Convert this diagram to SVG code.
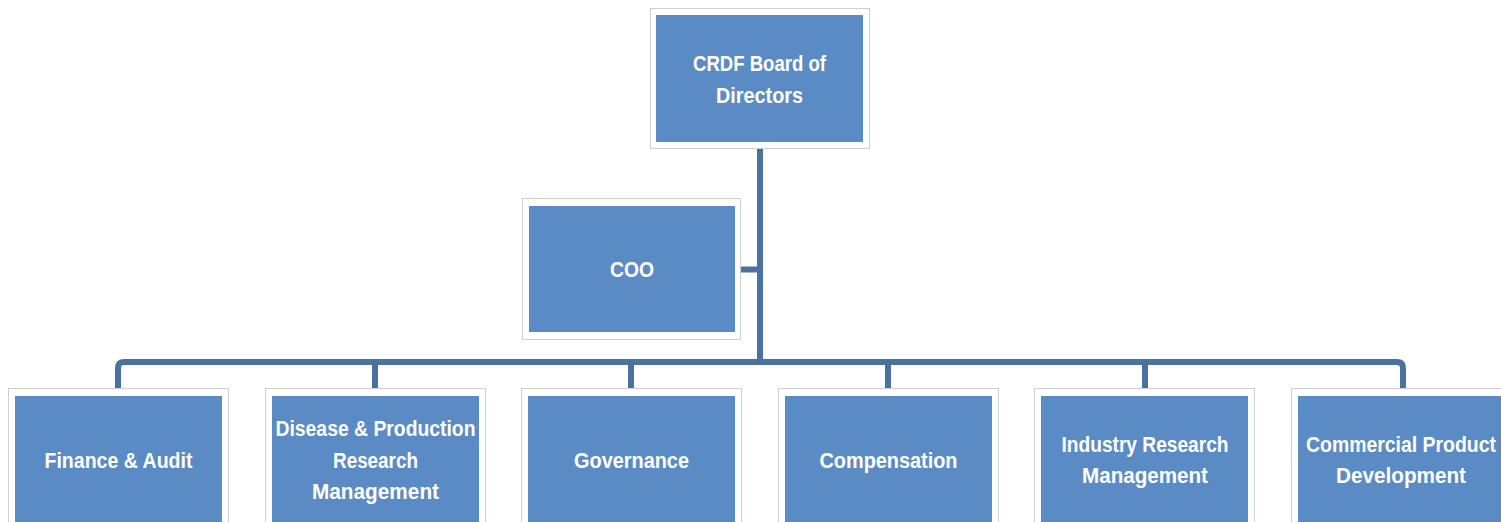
<svg xmlns="http://www.w3.org/2000/svg" width="1501" height="522" viewBox="0 0 1501 522">
<style>
.frame{fill:#ffffff;stroke:#cfcfcf;stroke-width:1}
.box{fill:#5b8bc4}
.lbl{fill:#ffffff;font-family:"Liberation Sans",Arial,sans-serif;font-weight:bold;font-size:22px;text-anchor:middle;dominant-baseline:central}
.conn{fill:none;stroke:#4a72a0;stroke-width:6;stroke-linejoin:round}
</style>
<g id="connectors">
<path class="conn" d="M760,149 V362"/>
<path class="conn" d="M740,269.5 H760"/>
<path class="conn" d="M118,388 V368 Q118,362 124,362 H1397 Q1403,362 1403,368 V388"/>
<path class="conn" d="M375,362 V388"/>
<path class="conn" d="M631,362 V388"/>
<path class="conn" d="M888,362 V388"/>
<path class="conn" d="M1145,362 V388"/>
</g>
<g id="board">
<rect class="frame" x="650.5" y="8.5" width="219" height="140"/>
<rect class="box" x="656" y="15" width="207" height="127"/>
<text class="lbl" x="759.5" y="63" textLength="133" lengthAdjust="spacingAndGlyphs">CRDF Board of</text>
<text class="lbl" x="759.5" y="95" textLength="87" lengthAdjust="spacingAndGlyphs">Directors</text>
</g>
<g id="coo">
<rect class="frame" x="522.5" y="198.5" width="218" height="141"/>
<rect class="box" x="529" y="206" width="206" height="126"/>
<text class="lbl" x="632" y="269" textLength="44" lengthAdjust="spacingAndGlyphs">COO</text>
</g>
<g id="finance">
<rect class="frame" x="8.5" y="388.5" width="220" height="140"/>
<rect class="box" x="15" y="396" width="207" height="130"/>
<text class="lbl" x="118.5" y="460" textLength="148" lengthAdjust="spacingAndGlyphs">Finance &amp; Audit</text>
</g>
<g id="disease">
<rect class="frame" x="265.5" y="388.5" width="220" height="140"/>
<rect class="box" x="272" y="396" width="207" height="130"/>
<text class="lbl" x="375.5" y="428" textLength="200" lengthAdjust="spacingAndGlyphs">Disease &amp; Production</text>
<text class="lbl" x="375.5" y="460" textLength="85" lengthAdjust="spacingAndGlyphs">Research</text>
<text class="lbl" x="375.5" y="491" textLength="127" lengthAdjust="spacingAndGlyphs">Management</text>
</g>
<g id="governance">
<rect class="frame" x="521.5" y="388.5" width="220" height="140"/>
<rect class="box" x="528" y="396" width="207" height="130"/>
<text class="lbl" x="631.5" y="460" textLength="115" lengthAdjust="spacingAndGlyphs">Governance</text>
</g>
<g id="compensation">
<rect class="frame" x="778.5" y="388.5" width="220" height="140"/>
<rect class="box" x="785" y="396" width="207" height="130"/>
<text class="lbl" x="888.5" y="460" textLength="138" lengthAdjust="spacingAndGlyphs">Compensation</text>
</g>
<g id="industry">
<rect class="frame" x="1034.5" y="388.5" width="220" height="140"/>
<rect class="box" x="1041" y="396" width="207" height="130"/>
<text class="lbl" x="1145" y="444" textLength="167" lengthAdjust="spacingAndGlyphs">Industry Research</text>
<text class="lbl" x="1145" y="475" textLength="126" lengthAdjust="spacingAndGlyphs">Management</text>
</g>
<g id="commercial">
<rect class="frame" x="1291.5" y="388.5" width="220" height="140"/>
<rect class="box" x="1298" y="396" width="207" height="130"/>
<text class="lbl" x="1401" y="444" textLength="190" lengthAdjust="spacingAndGlyphs">Commercial Product</text>
<text class="lbl" x="1401" y="475" textLength="130" lengthAdjust="spacingAndGlyphs">Development</text>
</g>
</svg>
